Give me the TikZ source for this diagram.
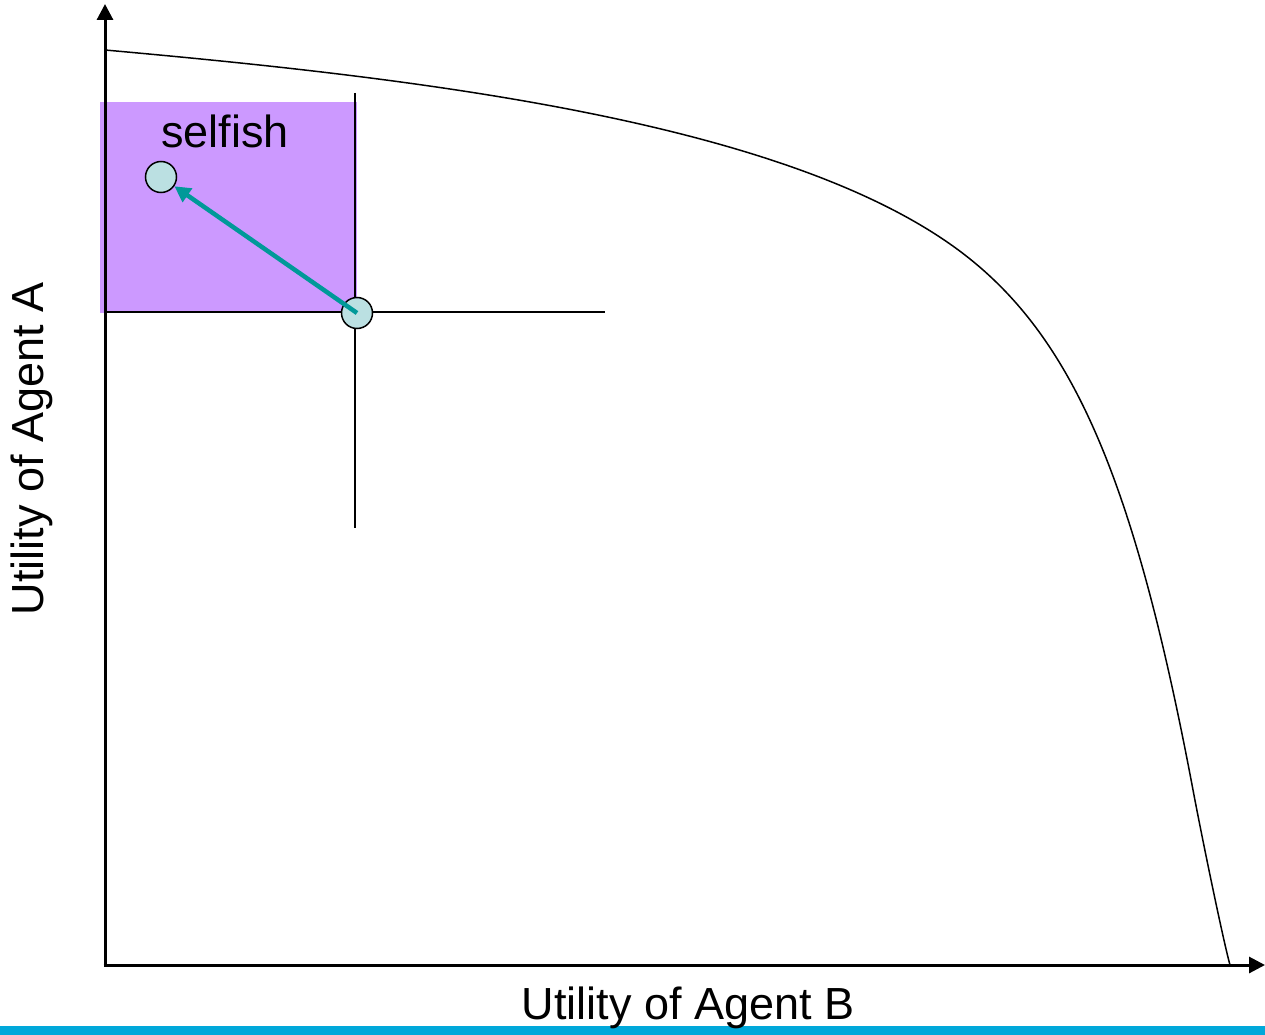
\documentclass[tikz,border=0pt]{standalone}
\usepackage{fontspec}
\setmainfont{Liberation Sans}
\usetikzlibrary{arrows.meta}
\definecolor{purp}{RGB}{204,153,255}
\definecolor{dotfill}{RGB}{187,224,226}
\definecolor{teal2}{RGB}{0,153,153}
\definecolor{barblue}{RGB}{0,168,218}
\tikzset{
  axis/.style={line width=3pt,-{Triangle[length=16pt,width=16pt]}},
  thin/.style={line width=1.5pt},
  dot/.style={circle,draw=black,line width=1.5pt,fill=dotfill,minimum size=31pt,inner sep=0pt},
  lbl/.style={font=\fontsize{45}{54}\selectfont,inner sep=0pt},
  move/.style={teal2,line width=4.5pt,-{Triangle[length=16pt,width=16pt]}}
}
\begin{document}
\begin{tikzpicture}[x=1pt,y=-1pt]
\useasboundingbox (0,0) rectangle (1265,1035);
% purple region
\fill[purp] (100,102) rectangle (357,313);
% blue bar
\fill[barblue] (0,1026) rectangle (1265,1035);
% cross lines
\coordinate (vtop) at (355,93);
\coordinate (vbot) at (355,528);
\coordinate (hleft) at (105,312);
\coordinate (hright) at (605,312);
\draw[thin] (vtop) -- (vbot);
\draw[thin] (hleft) -- (hright);
% frontier curve
\coordinate (f0) at (105,50);
\coordinate (f1) at (950,244);
\coordinate (f2) at (1193,790);
\coordinate (f3) at (1230,965);
\draw[thin] (f0) .. controls (405,77) and (770,118) .. (f1)
  .. controls (1070,328) and (1133,472) .. (f2)
  .. controls (1203,843) and (1224,944) .. (f3);
% axes
\coordinate (origin) at (105,965);
\coordinate (ytip) at (105,4);
\coordinate (xtip) at (1265,965);
\draw[axis] (origin) -- (ytip);
\draw[axis] ([xshift=-1.5pt]origin) -- (xtip);
% points
\node[dot] (start) at (357,313) {};
\node[dot] (selfishpt) at (161,177) {};
\draw[move] (start.center) -- (selfishpt);
% labels
\node[lbl] (selfish) at (225,131) {selfish};
\node[lbl] (xlabel) at (688,1008) {Utility of Agent B};
\node[lbl,rotate=90] (ylabel) at (32,449) {Utility of Agent A};
\end{tikzpicture}
\end{document}
